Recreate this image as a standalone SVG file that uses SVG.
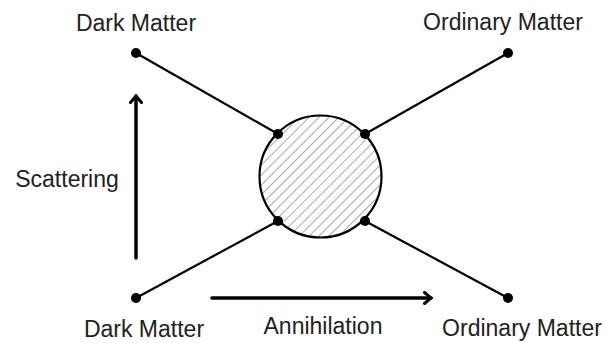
<svg xmlns="http://www.w3.org/2000/svg" width="611" height="343" viewBox="0 0 611 343">
  <style>
    .leg { stroke: #000; stroke-width: 2.2; fill: none; }
    .dot { fill: #000; }
    .flow { stroke: #000; stroke-width: 3.5; fill: none; stroke-linecap: round; }
    .label { font-family: "Liberation Sans", Arial, sans-serif; font-size: 23px; fill: #222; text-anchor: middle; }
  </style>
  <defs>
    <pattern id="hatch" patternUnits="userSpaceOnUse" width="7" height="7" patternTransform="rotate(45)">
      <line x1="0" y1="0" x2="0" y2="7" stroke="#999" stroke-width="1.7"/>
    </pattern>
    <marker id="chevron" viewBox="0 0 14 14" refX="10" refY="7" markerWidth="14" markerHeight="14" markerUnits="userSpaceOnUse" orient="auto">
      <path d="M3.5,1.5 L10,7 L3.5,12.5" fill="none" stroke="#000" stroke-width="3" stroke-linecap="round" stroke-linejoin="miter"/>
    </marker>
  </defs>

  <g id="connectors">
    <line class="leg" x1="136" y1="53" x2="278" y2="134"/>
    <line class="leg" x1="508" y1="53" x2="365" y2="134"/>
    <line class="leg" x1="136" y1="298" x2="278" y2="221"/>
    <line class="leg" x1="508" y1="298" x2="365" y2="221"/>
    <line class="flow" x1="136" y1="258" x2="136" y2="96" marker-end="url(#chevron)"/>
    <line class="flow" x1="212" y1="298" x2="431" y2="298" marker-end="url(#chevron)"/>
  </g>

  <g id="vertex">
    <circle cx="320.5" cy="176.5" r="61" fill="#fff"/>
    <circle cx="320.5" cy="176.5" r="61" fill="url(#hatch)" stroke="#000" stroke-width="2.2"/>
    <circle class="dot" cx="278" cy="134" r="5"/>
    <circle class="dot" cx="365" cy="134" r="5"/>
    <circle class="dot" cx="278" cy="221" r="5"/>
    <circle class="dot" cx="365" cy="221" r="5"/>
  </g>

  <g id="dark-matter-in">
    <circle class="dot" cx="136" cy="53" r="5"/>
    <text class="label" x="136" y="31">Dark Matter</text>
  </g>
  <g id="ordinary-matter-out">
    <circle class="dot" cx="508" cy="53" r="5"/>
    <text class="label" x="503" y="30">Ordinary Matter</text>
  </g>
  <g id="dark-matter-low">
    <circle class="dot" cx="136" cy="298" r="5"/>
    <text class="label" x="144" y="337">Dark Matter</text>
  </g>
  <g id="ordinary-matter-low">
    <circle class="dot" cx="508" cy="298" r="5"/>
    <text class="label" x="522" y="336">Ordinary Matter</text>
  </g>

  <g id="scattering-label">
    <text class="label" x="67" y="187">Scattering</text>
  </g>
  <g id="annihilation-label">
    <text class="label" x="323" y="334">Annihilation</text>
  </g>
</svg>
